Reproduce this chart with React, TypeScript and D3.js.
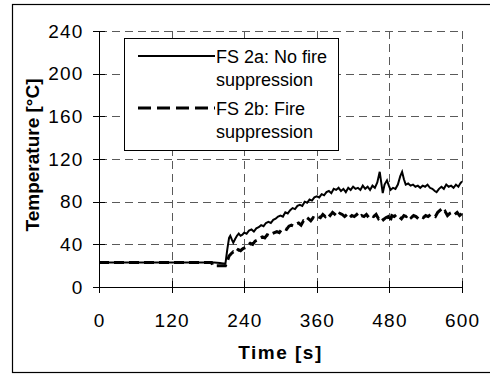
import React from "react";
import * as d3 from "d3";

const xTicks = [0, 120, 240, 360, 480, 600];
const yTicks = [0, 40, 80, 120, 160, 200, 240];

const timeA = [0, 50, 100, 150, 190, 200, 205, 209, 212, 215, 217, 220, 222, 225, 228, 231, 234, 237, 240, 244, 248, 252, 256, 260, 264, 268, 272, 276, 280, 284, 288, 292, 296, 300, 304, 308, 312, 316, 320, 324, 328, 332, 336, 340, 344, 348, 352, 356, 360, 364, 368, 372, 376, 380, 384, 388, 392, 396, 400, 404, 408, 412, 416, 420, 424, 428, 432, 436, 440, 444, 448, 452, 456, 460, 464, 467, 469, 472, 476, 479, 482, 486, 490, 494, 498, 501, 504, 507, 511, 515, 519, 523, 527, 531, 535, 539, 543, 547, 551, 555, 558, 562, 566, 570, 574, 578, 582, 586, 590, 594, 597, 600];
const tempA = [23, 23, 23, 23, 23, 22.5, 22, 22, 35, 46, 48, 44, 41.5, 45, 48, 50, 48, 49, 51, 50, 53, 54, 52, 55, 56, 58, 57, 60, 61, 60, 63, 64, 66, 67, 66, 70, 69, 72, 74, 73, 76, 77, 76, 80, 79, 82, 81, 84, 85, 84, 87, 86, 89, 90, 88, 92, 91, 93, 90, 92, 89, 93, 91, 94, 92, 93, 91, 95, 92, 94, 91, 95, 93, 98, 108, 96, 88, 96, 100, 95, 91, 93, 92, 96, 104, 108, 101, 96, 97, 95, 96, 94, 95, 93, 95, 94, 96, 93, 92, 90, 89, 92, 94, 92, 96, 94, 95, 93, 96, 94, 97, 99];

const timeB = [0, 100, 186, 188, 200, 209, 212, 215, 218, 222, 226, 230, 234, 238, 242, 246, 250, 254, 258, 262, 266, 270, 274, 278, 282, 286, 290, 294, 298, 302, 306, 310, 314, 318, 322, 326, 330, 334, 338, 342, 346, 350, 354, 358, 362, 366, 370, 374, 378, 382, 386, 390, 394, 398, 402, 406, 410, 414, 418, 422, 426, 430, 434, 438, 442, 446, 450, 454, 458, 462, 466, 470, 474, 478, 481, 484, 488, 492, 496, 500, 504, 508, 512, 516, 520, 524, 528, 532, 536, 540, 544, 548, 552, 556, 560, 564, 568, 572, 576, 580, 584, 588, 592, 596, 600];
const tempB = [23, 23, 23, 20, 20, 20, 24, 29, 31, 33, 32, 35, 34, 36, 37, 39, 41, 40, 43, 44, 46, 47, 46, 49, 48, 50, 51, 52, 51, 54, 55, 54, 57, 58, 57, 59, 60, 58, 62, 61, 64, 62, 65, 64, 66, 65, 68, 66, 69, 67, 70, 68, 66, 69, 68, 66, 68, 65, 67, 66, 68, 65, 67, 66, 68, 65, 67, 66, 68, 64, 66, 63, 65, 66, 61, 67, 66, 68, 66, 64, 67, 66, 68, 65, 67, 66, 64, 66, 65, 67, 66, 68, 67, 66, 70, 72, 69, 71, 67, 69, 70, 68, 70, 67, 69];

const legendLabels = [["FS 2a: No fire", "suppression"], ["FS 2b: Fire", "suppression"]];

const FONT = "'Liberation Sans', Arial, sans-serif";

export default function App() {
  const left = 99, right = 462, top = 31, bottom = 287;
  const x = d3.scaleLinear().domain([0, 600]).range([left, right]);
  const y = d3.scaleLinear().domain([0, 240]).range([bottom, top]);
  const line = d3.line<[number, number]>().x((d) => x(d[0])).y((d) => y(d[1]));
  const dA = line(timeA.map((t, i) => [t, tempA[i]]) as [number, number][]) || "";
  const dB = line(timeB.map((t, i) => [t, tempB[i]]) as [number, number][]) || "";
  const gridColor = "#5a5a5a";
  const px = (v: number) => Math.round(v) + 0.5;

  return (
    <svg width={490} height={378} style={{ position: "absolute", left: 0, top: 0 }}>
      <rect x={0} y={0} width={490} height={378} fill="#fff" />
      <rect x={12.5} y={4.5} width={490} height={368} fill="none" stroke="#000" strokeWidth={1.2} />
      {/* grid */}
      {yTicks.filter((v) => v > 0).map((v) => (
        <line key={"gy" + v} x1={left} x2={right} y1={px(y(v))} y2={px(y(v))} stroke={gridColor} strokeWidth={1} strokeDasharray="8,5" />
      ))}
      {xTicks.filter((v) => v > 0).map((v) => (
        <line key={"gx" + v} x1={px(x(v))} x2={px(x(v))} y1={top} y2={bottom} stroke={gridColor} strokeWidth={1} strokeDasharray="8,5" />
      ))}
      {/* data */}
      <path d={dB} fill="none" stroke="#000" strokeWidth={3} strokeDasharray="10,5" />
      <path d={dA} fill="none" stroke="#000" strokeWidth={2} />
      {/* axes */}
      <line x1={px(left)} x2={px(left)} y1={top} y2={bottom} stroke="#000" strokeWidth={1} />
      <line x1={left} x2={right} y1={px(bottom)} y2={px(bottom)} stroke="#000" strokeWidth={1} />
      {yTicks.map((v) => (
        <g key={"yt" + v}>
          <line x1={left - 6} x2={left + 6} y1={px(y(v))} y2={px(y(v))} stroke="#000" />
          <text x={83.5} y={y(v)} dy="0.35em" textAnchor="end" fontFamily={FONT} fontSize={19} letterSpacing={1.2}>{v}</text>
        </g>
      ))}
      {xTicks.map((v) => (
        <g key={"xt" + v}>
          <line x1={px(x(v))} x2={px(x(v))} y1={bottom - 6} y2={bottom + 6} stroke="#000" />
          <text x={x(v) + 0.6} y={327} textAnchor="middle" fontFamily={FONT} fontSize={19} letterSpacing={1.2}>{v}</text>
        </g>
      ))}
      <text x={280.5} y={359} textAnchor="middle" fontFamily={FONT} fontSize={19} fontWeight="bold" letterSpacing={1.5}>Time [s]</text>
      <text transform="translate(39,155) rotate(-90)" textAnchor="middle" fontFamily={FONT} fontSize={19} fontWeight="bold">Temperature [°C]</text>
      {/* legend */}
      <rect x={124.5} y={38.5} width={214} height={112} fill="#fff" stroke="#000" strokeWidth={1} />
      <line x1={138} x2={215} y1={56} y2={56} stroke="#000" strokeWidth={2} />
      <line x1={138} x2={215} y1={108} y2={108} stroke="#000" strokeWidth={3} strokeDasharray="13,6" />
      {legendLabels.map((lines, i) => (
        <text key={"lg" + i} fontFamily={FONT} fontSize={18}>
          {lines.map((s, j) => (
            <tspan key={j} x={216} y={63 + i * 52 + j * 22.5}>{s}</tspan>
          ))}
        </text>
      ))}
    </svg>
  );
}
